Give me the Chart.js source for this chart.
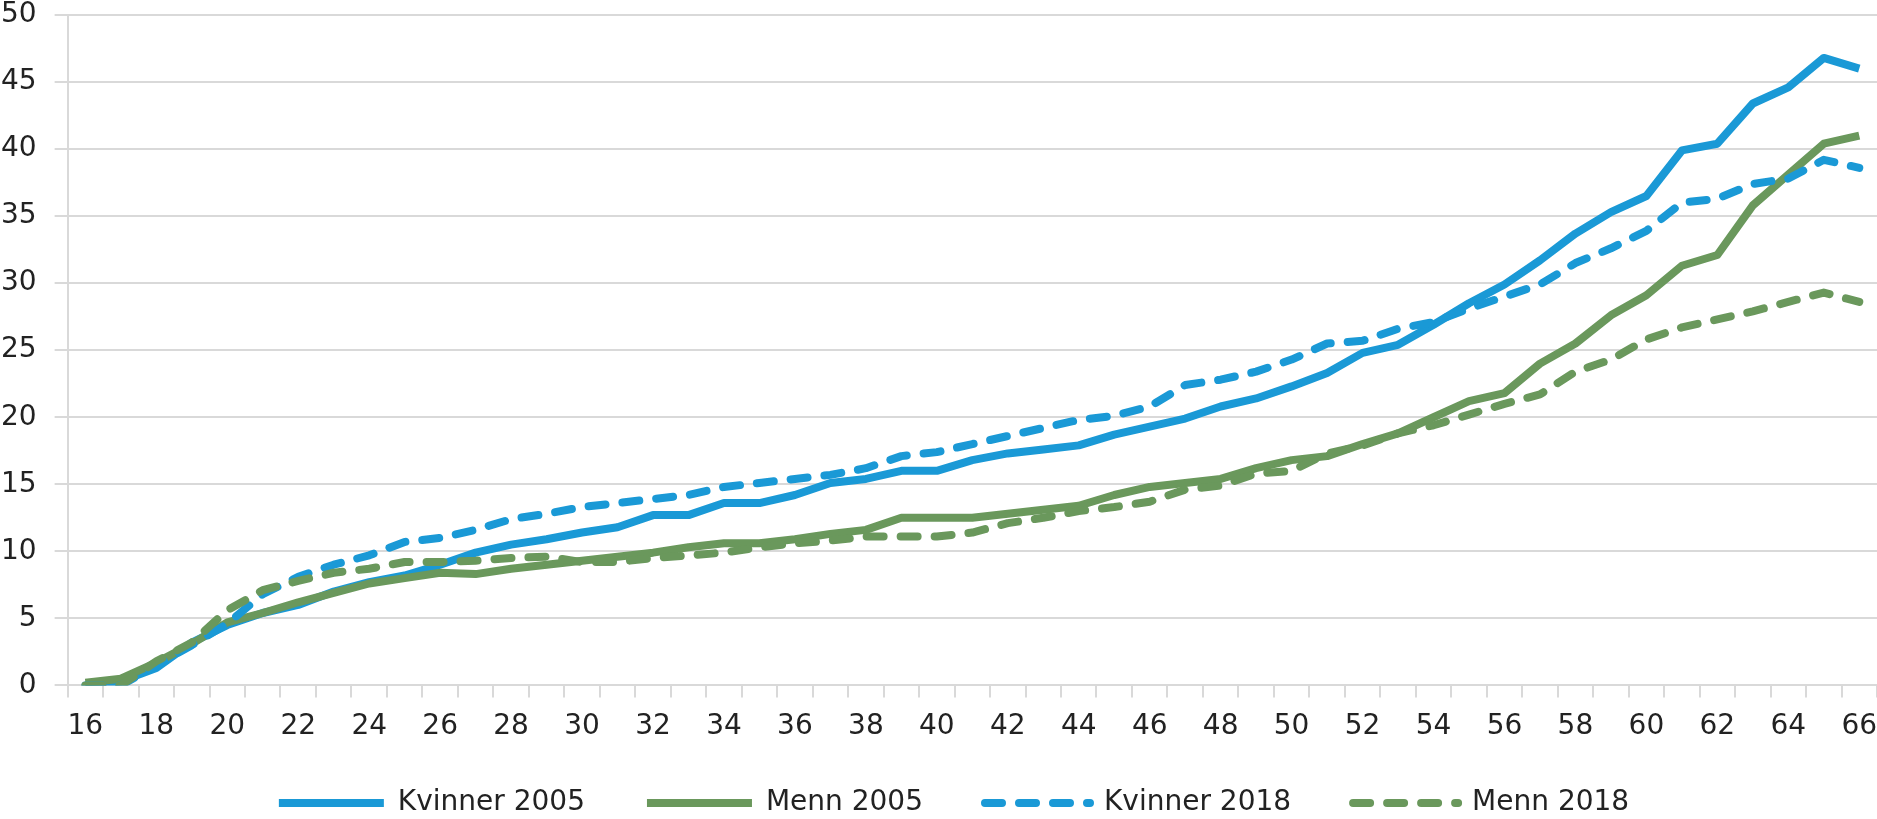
<!DOCTYPE html>
<html>
<head>
<meta charset="utf-8">
<script src="https://cdn.jsdelivr.net/npm/chart.js@4"></script>
<style>
  html, body { margin: 0; padding: 0; background: #fff; }
  #wrap { width: 1877px; height: 819px; position: relative; }
</style>
</head>
<body>
<div id="wrap"><canvas id="chart"></canvas></div>
<script>
/* --------------------------------------------------------------
   DATA – age 16..66, share (%) per group
-------------------------------------------------------------- */

const ages = [];
for (let a = 16; a <= 66; a++) ages.push(String(a));

const yTicks = [0, 5, 10, 15, 20, 25, 30, 35, 40, 45, 50];

const kvinner2005 = [
    0.0, 0.3, 1.3, 3.2, 4.5, 5.4, 6.0, 7.0, 7.7, 8.2,
    9.0, 9.9, 10.5, 10.9, 11.4, 11.8, 12.7, 12.7, 13.6, 13.6,
    14.2, 15.1, 15.4, 16.0, 16.0, 16.8, 17.3, 17.6, 17.9, 18.7,
    19.3, 19.9, 20.8, 21.4, 22.3, 23.3, 24.8, 25.4, 26.9, 28.5,
    29.9, 31.7, 33.7, 35.3, 36.5, 39.9, 40.4, 43.4, 44.6, 46.8,
    46.0
];

const menn2005 = [
    0.2, 0.5, 1.7, 3.1, 4.7, 5.4, 6.2, 6.9, 7.6, 8.0,
    8.4, 8.3, 8.7, 9.0, 9.3, 9.6, 9.9, 10.3, 10.6, 10.6,
    10.9, 11.3, 11.6, 12.5, 12.5, 12.5, 12.8, 13.1, 13.4, 14.2,
    14.8, 15.1, 15.4, 16.2, 16.8, 17.1, 18.0, 18.8, 20.0, 21.2,
    21.8, 24.0, 25.5, 27.6, 29.1, 31.3, 32.1, 35.8, 38.1, 40.4,
    41.0
];

const kvinner2018 = [
    0.0, 0.0, 1.5, 3.0, 4.6, 6.8, 8.1, 9.0, 9.7, 10.7,
    11.0, 11.6, 12.4, 12.8, 13.3, 13.6, 13.9, 14.2, 14.8, 15.1,
    15.4, 15.7, 16.2, 17.1, 17.4, 18.0, 18.6, 19.2, 19.8, 20.1,
    20.8, 22.4, 22.8, 23.4, 24.3, 25.5, 25.7, 26.6, 27.1, 28.1,
    29.0, 29.9, 31.5, 32.6, 33.9, 36.0, 36.3, 37.4, 37.8, 39.2,
    38.6
];

const menn2018 = [
    0.0, 0.0, 1.8, 3.2, 5.6, 7.1, 7.8, 8.4, 8.7, 9.2,
    9.2, 9.3, 9.5, 9.6, 9.2, 9.2, 9.5, 9.7, 9.9, 10.3,
    10.6, 10.8, 11.1, 11.1, 11.1, 11.4, 12.1, 12.5, 13.0, 13.3,
    13.7, 14.6, 14.9, 15.8, 16.0, 17.3, 17.9, 18.8, 19.4, 20.2,
    21.0, 21.7, 23.4, 24.3, 25.8, 26.7, 27.3, 27.9, 28.6, 29.3,
    28.6
];

const BLUE = "#1a99d6";
const GREEN = "#6a985c";
const GRID = "#d9d9d9";
const TEXT = "#222222";
const FONT = "'DejaVu Sans', Verdana, sans-serif";

function series(label, data, color, dashed, order) {
    return {
        label: label,
        data: data,
        borderColor: color,
        backgroundColor: color,
        borderWidth: 8,
        borderDash: dashed ? [17, 17] : [],
        borderCapStyle: dashed ? "round" : "butt",
        borderJoinStyle: "round",
        pointRadius: 0,
        pointHoverRadius: 0,
        tension: 0,
        fill: false,
        order: order          // later series drawn on top, like the original
    };
}

/* ----------------------------------------------------------
   legend: wide gaps between the items, but sitting close
   under the axis labels (and a bit right of centre)
----------------------------------------------------------- */

const LEGEND_SHRINK = 38;
const LEGEND_LIFT = 30;
const LEGEND_SHIFT = 24;

const legendGap = {
    id: "legendGap",
    afterInit(chart) {
        const lg = chart.legend;
        const fit = lg.fit;
        lg.fit = function () {
            fit.call(this);
            this.height -= LEGEND_SHRINK;
        };
    },
    afterLayout(chart) {
        const lg = chart.legend;
        lg.top -= LEGEND_LIFT;
        lg.left += LEGEND_SHIFT;
        lg.right += LEGEND_SHIFT;
    }
};

/* ----------------------------------------------------------
   CHART
----------------------------------------------------------- */

new Chart(document.getElementById("chart"), {
    type: "line",
    data: {
        labels: ages,
        datasets: [
            series("Kvinner 2005", kvinner2005, BLUE, false, 4),
            series("Menn 2005", menn2005, GREEN, false, 3),
            series("Kvinner 2018", kvinner2018, BLUE, true, 2),
            series("Menn 2018", menn2018, GREEN, true, 1)
        ]
    },
    plugins: [legendGap],
    options: {
        responsive: true,
        maintainAspectRatio: false,
        animation: false,
        layout: { padding: { left: -17, right: 0, top: 0, bottom: 0 } },
        plugins: {
            tooltip: { enabled: false },
            legend: {
                position: "bottom",
                labels: {
                    usePointStyle: true,
                    pointStyle: "line",
                    pointStyleWidth: 105,
                    padding: 62,
                    color: TEXT,
                    font: { family: FONT, size: 28 },
                    sort: (a, b) => a.datasetIndex - b.datasetIndex,
                    generateLabels: ch => {
                        const items = Chart.defaults.plugins.legend.labels.generateLabels(ch);
                        items.forEach(it => {
                            const ds = ch.data.datasets[it.datasetIndex];
                            it.lineDash = ds.borderDash;
                            it.lineCap = ds.borderCapStyle;
                        });
                        return items;
                    }
                }
            }
        },
        scales: {
            x: {
                offset: true,
                afterFit: s => { s.paddingLeft = 0; s.paddingRight = 0; },
                grid: {
                    offset: true,
                    drawOnChartArea: false,
                    color: GRID,
                    lineWidth: 2,
                    tickLength: 12
                },
                border: { display: true, color: GRID, width: 2 },
                ticks: {
                    autoSkip: false,
                    maxRotation: 0,
                    padding: 13,
                    color: TEXT,
                    font: { family: FONT, size: 28 },
                    callback: (v, i) => (i % 2 === 0 ? ages[i] : "")
                }
            },
            y: {
                min: yTicks[0],
                max: yTicks[yTicks.length - 1],
                afterBuildTicks: axis => {
                    axis.ticks = yTicks.map(v => ({ value: v }));
                },
                afterFit: s => { s.paddingTop = 15; },
                grid: { color: GRID, lineWidth: 2, tickLength: 13 },
                border: { display: true, color: GRID, width: 2 },
                ticks: {
                    padding: 18,
                    color: TEXT,
                    font: { family: FONT, size: 28 }
                }
            }
        }
    }
});
</script>
</body>
</html>
